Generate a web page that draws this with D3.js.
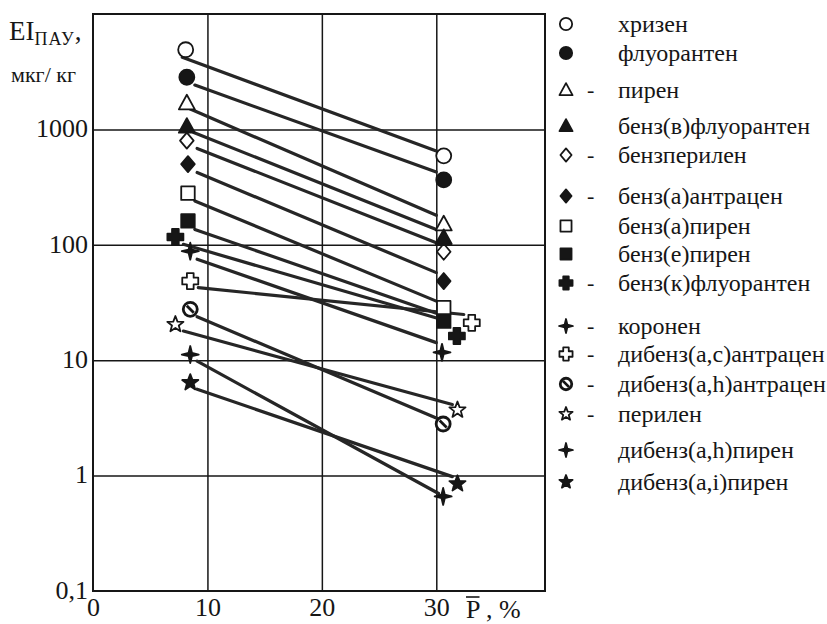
<!DOCTYPE html>
<html>
<head>
<meta charset="utf-8">
<script src="https://cdn.jsdelivr.net/npm/d3@7"></script>
<style>
  body { margin: 0; background: #fff; }
  #chart, #chart text { font-family: "Liberation Serif", "DejaVu Serif", serif !important; }
</style>
</head>
<body>
<svg id="chart" width="827" height="624"></svg>
<script>
// substances, in legend order
const names = [
  "хризен", "флуорантен", "пирен", "бенз(в)флуорантен", "бензперилен",
  "бенз(а)антрацен", "бенз(а)пирен", "бенз(е)пирен", "бенз(к)флуорантен", "коронен",
  "дибенз(a,c)антрацен", "дибенз(a,h)антрацен", "перилен", "дибенз(a,h)пирен", "дибенз(a,i)пирен"
];
const dashed = [false, false, true, false, true, true, false, false, true, true, true, true, true, false, false];

// measured points (P, %  ->  EI, мкг/кг)
const leftP  = [8.1, 8.2, 8.2, 8.2, 8.2, 8.3, 8.3, 8.3, 7.2, 8.5, 8.5, 8.5, 7.2, 8.5, 8.5];
const leftEI = [4900, 2830, 1690, 1060, 800, 500, 280, 161, 117, 88, 48.5, 27.6, 20.4, 11.2, 6.4];
const rightP  = [30.65, 30.65, 30.65, 30.65, 30.65, 30.65, 30.65, 30.65, 31.8, 30.5, 33.1, 30.6, 31.85, 30.6, 31.85];
const rightEI = [590, 365, 151, 115, 87, 48.5, 28.5, 21.8, 16.2, 11.7, 21.1, 2.8, 3.7, 0.66, 0.85];

// fitted lines
const fitP1  = [7.8, 8.9, 8.5, 8.8, 9.1, 9.1, 8.9, 8.9, 7.9, 9.1, 9.2, 9.1, 7.9, 9.1, 9.1];
const fitEI1 = [4210, 2420, 1500, 940, 684, 423, 240, 136, 101, 75, 42.5, 23.8, 17.9, 9.8, 5.6];
const fitP2  = [30, 30, 30, 30, 30, 30, 30, 30, 30.4, 30, 32.4, 30.1, 31.4, 30.2, 31.4];
const fitEI2 = [651, 428, 180, 136, 104, 57.4, 32.5, 25.5, 22.6, 14.2, 24.9, 3.12, 4.13, 0.70, 0.98];

const xTicks = [0, 10, 20, 30];
const yTicks = [0.1, 1, 10, 100, 1000];
const yTickLabels = ["0,1", "1", "10", "100", "1000"];

// marker look per series
const kinds  = ["circle", "circle", "triangle", "triangle", "diamond", "diamond", "square", "square",
                "cross", "star4", "cross", "slash", "star5", "star4", "star5"];
const filled = [false, true, false, true, false, true, false, true, true, true, false, false, false, true, true];

const ink = "#161616";
const svg = d3.select("#chart");
const L = 93, R = 545, T = 14, B = 591;

const x = d3.scaleLinear().domain([0, 39.5]).range([L, R]);
const y = d3.scaleLog().domain([0.1, 10000]).range([B, T]);

// symbol shapes, size = radius
const shapes = {
  circle: { draw(c, r) { c.moveTo(r, 0); c.arc(0, 0, r, 0, 2 * Math.PI); } },
  triangle: { draw(c, r) { c.moveTo(0, -r * 1.05); c.lineTo(r, r * 0.78); c.lineTo(-r, r * 0.78); c.closePath(); } },
  diamond: { draw(c, r) { c.moveTo(0, -r); c.lineTo(r * 0.85, 0); c.lineTo(0, r); c.lineTo(-r * 0.85, 0); c.closePath(); } },
  square: { draw(c, r) { c.rect(-r * 0.9, -r * 0.9, r * 1.8, r * 1.8); } },
  cross: { draw(c, r) {
    const a = r * 0.42;
    c.moveTo(-a, -r); c.lineTo(a, -r); c.lineTo(a, -a); c.lineTo(r, -a); c.lineTo(r, a);
    c.lineTo(a, a); c.lineTo(a, r); c.lineTo(-a, r); c.lineTo(-a, a); c.lineTo(-r, a);
    c.lineTo(-r, -a); c.lineTo(-a, -a); c.closePath();
  } },
  star4: { draw(c, r) {
    const w = r * 0.2;
    c.moveTo(0, -r); c.lineTo(w, -w); c.lineTo(r, 0); c.lineTo(w, w);
    c.lineTo(0, r); c.lineTo(-w, w); c.lineTo(-r, 0); c.lineTo(-w, -w); c.closePath();
  } },
  star5: { draw(c, r) {
    for (let i = 0; i < 10; i++) {
      const rr = i % 2 ? r * 0.42 : r;
      const ang = -Math.PI / 2 + i * Math.PI / 5;
      const px = rr * Math.cos(ang), py = rr * Math.sin(ang);
      i ? c.lineTo(px, py) : c.moveTo(px, py);
    }
    c.closePath();
  } },
  slash: { draw(c, r) {
    c.moveTo(r, 0); c.arc(0, 0, r, 0, 2 * Math.PI);
    c.moveTo(-r * 0.5, -r * 0.5); c.lineTo(r * 0.5, r * 0.5);
  } }
};
const baseR = { circle: 7.5, triangle: 8, diamond: 8, square: 7.5, cross: 8, star4: 8.5, star5: 8.5, slash: 7 };

function marker(sel, i, scale) {
  sel.append("path")
    .attr("d", d3.symbol().type(shapes[kinds[i]]).size(baseR[kinds[i]] * scale)())
    .attr("fill", filled[i] ? ink : "#fff")
    .attr("stroke", ink)
    .attr("stroke-width", kinds[i] === "slash" ? 2.8 : 1.8)
    .attr("stroke-linejoin", "round");
}

function label(sel, size) {
  return sel.attr("font-family", null).style("font-size", size + "px").attr("fill", ink);
}

// grid
svg.append("g")
  .attr("transform", `translate(${L},0)`)
  .call(d3.axisLeft(y).tickValues([1, 10, 100, 1000]).tickSize(-(R - L)).tickFormat(""))
  .call(g => g.select(".domain").remove())
  .selectAll("line").attr("stroke", ink).attr("stroke-width", 1.5);

svg.append("g")
  .attr("transform", `translate(0,${B})`)
  .call(d3.axisBottom(x).tickValues([10, 20, 30]).tickSize(-(B - T)).tickFormat(""))
  .call(g => g.select(".domain").remove())
  .selectAll("line").attr("stroke", ink).attr("stroke-width", 1.5);

// frame
svg.append("rect")
  .attr("x", L).attr("y", T).attr("width", R - L).attr("height", B - T)
  .attr("fill", "none").attr("stroke", ink).attr("stroke-width", 2);

// axes labels
const yAxis = svg.append("g")
  .attr("transform", `translate(${L},0)`)
  .call(d3.axisLeft(y).tickValues(yTicks).tickSize(0).tickPadding(5)
    .tickFormat((d, i) => yTickLabels[i]));
yAxis.attr("font-family", null).select(".domain").remove();
label(yAxis.selectAll("text"), 26).attr("dy", "0.28em");

const xAxis = svg.append("g")
  .attr("transform", `translate(0,${B})`)
  .call(d3.axisBottom(x).tickValues(xTicks).tickSize(0).tickPadding(7).tickFormat(d3.format("d")));
xAxis.attr("font-family", null).select(".domain").remove();
label(xAxis.selectAll("text"), 26);

// x title: P with overline
const xt = label(svg.append("text").attr("x", 466).attr("y", B + 27), 26);
const pSpan = xt.append("tspan").text("P");
xt.append("tspan").text(" , %");
const pw = pSpan.node().getComputedTextLength();
svg.append("line")
  .attr("x1", 466).attr("x2", 466 + pw)
  .attr("y1", B + 6).attr("y2", B + 6)
  .attr("stroke", ink).attr("stroke-width", 1.6);

// y title
const yt = label(svg.append("text").attr("x", 9).attr("y", 40), 27);
yt.append("tspan").text("EI");
yt.append("tspan").text("ПАУ").style("font-size", "18px").style("letter-spacing", "1px").attr("dy", 5);
yt.append("tspan").text(",").attr("dy", -5);
label(svg.append("text").attr("x", 11).attr("y", 82), 22).text("мкг/ кг");

// fitted lines
svg.append("g").selectAll("line")
  .data(names)
  .join("line")
  .attr("x1", (d, i) => x(fitP1[i])).attr("y1", (d, i) => y(fitEI1[i]))
  .attr("x2", (d, i) => x(fitP2[i])).attr("y2", (d, i) => y(fitEI2[i]))
  .attr("stroke", "#262626").attr("stroke-width", 3.2).attr("stroke-linecap", "round");

// points
names.forEach((n, i) => {
  marker(svg.append("g").attr("transform", `translate(${x(leftP[i])},${y(leftEI[i])})`), i, 1);
  marker(svg.append("g").attr("transform", `translate(${x(rightP[i])},${y(rightEI[i])})`), i, 1);
});

// legend
const legendY = [24, 53, 90, 126, 155, 196, 226, 254, 283, 326, 354, 384, 414, 450, 482];
const legend = svg.append("g");
names.forEach((n, i) => {
  const row = legend.append("g").attr("transform", `translate(566,${legendY[i]})`);
  marker(row, i, 0.82);
  if (dashed[i]) label(row.append("text").attr("x", 21).attr("y", 7), 22).text("-");
  label(row.append("text").attr("x", 52).attr("y", 8), 24).text(n);
});
</script>
</body>
</html>
